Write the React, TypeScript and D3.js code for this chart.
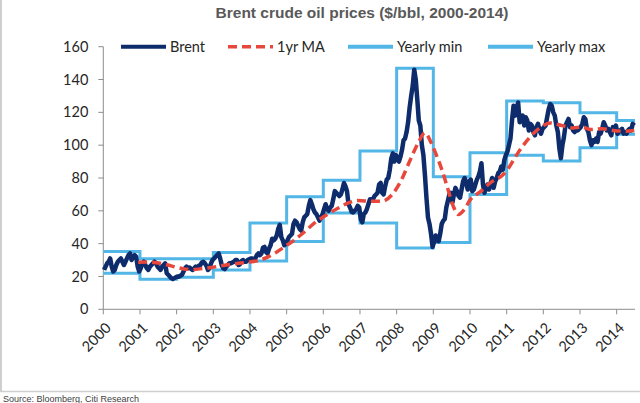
import React from "react";
import * as d3 from "d3";

const W = 640;
const H = 403;

// plot frame
const X0 = 103.3;
const X1 = 635;
const Y0 = 309.3;
const Y1 = 46.7;

const years = [2000, 2001, 2002, 2003, 2004, 2005, 2006, 2007, 2008, 2009, 2010, 2011, 2012, 2013, 2014];
const yTicks = [0, 20, 40, 60, 80, 100, 120, 140, 160];
const xEnd = 2014.5;

// Brent, two readings per month (first half, second half), one row per year
const brent2000 = [24, 26, 28, 29, 31, 26, 23, 24, 27, 29, 30, 31, 29, 27, 29, 31, 33, 34, 30, 32, 33, 32, 26, 23];
const brent2001 = [25, 28, 29, 27, 25, 24, 26, 27, 28, 29, 28, 26, 25, 24, 26, 27, 28, 22, 21, 20, 19, 18.5, 19, 19.5];
const brent2002 = [20, 19.8, 20.5, 21, 23, 25, 26, 25, 25.5, 24.5, 24, 25, 26, 25.5, 26.5, 27, 28.5, 29, 28, 26.5, 24, 25, 28, 30];
const brent2003 = [31, 32, 33, 34, 31, 27, 25, 24.5, 26, 27, 28, 28, 28.5, 29, 30, 30, 27, 27.5, 29.5, 30, 29, 29, 30, 30.5];
const brent2004 = [31, 31, 30.5, 31, 33, 34, 33, 34, 37.5, 38, 35, 34, 37, 39, 43, 42, 43, 45, 49, 51.5, 44, 42, 39, 40];
const brent2005 = [42, 44, 45, 46, 52, 54, 53, 51, 49, 48, 53, 56, 57, 58, 63, 66.5, 64, 61, 59, 58, 56, 54, 56, 58];
const brent2006 = [61, 64, 61, 60, 62, 63, 67, 72, 71, 70, 69, 70, 73, 77, 75, 72, 64, 62, 59.5, 59, 60, 61, 63, 62];
const brent2007 = [55, 53, 58, 59, 61, 64, 67, 67, 67, 69, 70, 71, 76, 77, 71, 70, 75, 79, 80, 85, 92, 95, 90, 94];
const brent2008 = [92, 90, 93, 97, 103, 104, 108, 114, 123, 130, 136, 146, 140, 128, 115, 112, 100, 94, 82, 68, 56, 52, 46, 38];
const brent2009 = [41, 45, 42, 41.5, 46, 52, 54, 55, 62, 66, 70, 71, 65, 70, 74, 72, 69, 68, 73, 78, 80, 77, 73, 78];
const brent2010 = [79, 72, 73, 76, 79, 81, 84, 89, 76, 71, 74, 76, 73, 77, 80, 74, 78, 80, 83, 84, 87, 85, 91, 94];
const brent2011 = [96, 100, 104, 115, 124, 118, 122, 126, 114, 116, 118, 112, 117, 115, 109, 113, 112, 108, 106, 111, 113, 109, 107, 110];
const brent2012 = [111, 112, 117, 122, 125, 124, 120, 118, 112, 108, 98, 92, 100, 105, 112, 114, 116, 111, 112, 109, 108, 110, 109, 110];
const brent2013 = [111, 113, 117, 116, 110, 108, 103, 100, 103, 102, 104, 102, 108, 107, 110, 114, 112, 109, 110, 108, 106, 111, 110, 112];
const brent2014 = [107, 108, 109, 110, 107, 108, 107, 109, 110, 109, 113, 112];

const brentRows = [
  brent2000, brent2001, brent2002, brent2003, brent2004, brent2005, brent2006, brent2007,
  brent2008, brent2009, brent2010, brent2011, brent2012, brent2013, brent2014,
];

// 1yr moving average: [year, value]
const ma1yr: [number, number][] = [
  [2000.95, 28.7], [2001.2, 28.8], [2001.45, 28.4], [2001.73, 27.1], [2002.0, 25.6], [2002.2, 24.6],
  [2002.45, 24.3], [2002.7, 24.8], [2002.95, 25.5], [2003.2, 26.5], [2003.45, 27.3], [2003.7, 28.0],
  [2003.95, 28.8], [2004.2, 29.5], [2004.45, 31.5], [2004.7, 34.5], [2004.96, 38.3], [2005.2, 42.0],
  [2005.45, 46.5], [2005.78, 53.0], [2006.05, 57.0], [2006.41, 61.7], [2006.7, 65.0], [2006.95, 66.3],
  [2007.3, 65.8], [2007.6, 65.8], [2007.86, 69.5], [2008.1, 77.5], [2008.37, 91], [2008.6, 102],
  [2008.77, 107.5], [2008.95, 101], [2009.1, 93], [2009.25, 84], [2009.4, 73], [2009.55, 62.5],
  [2009.68, 57.7], [2009.85, 61], [2010.0, 66.5], [2010.3, 72], [2010.55, 77], [2010.9, 82],
  [2011.05, 86], [2011.3, 95], [2011.6, 104], [2011.9, 110.5], [2012.2, 113.5], [2012.5, 112],
  [2012.8, 110.5], [2013.05, 111], [2013.3, 109.5], [2013.6, 110], [2013.9, 109], [2014.2, 108.5],
  [2014.48, 109],
];

const yearlyMin = [22, 18.3, 19.6, 24, 29.5, 41.3, 58.7, 52.6, 37.3, 40.7, 69.9, 93.9, 90.3, 98.4, 106.6];
const yearlyMax = [35.2, 30.8, 30.8, 34.6, 52.6, 68.5, 78.6, 96.4, 146.9, 80.7, 95.4, 126.9, 125.9, 119.8, 115.1];

const NAVY = "#0E2C6B";
const RED = "#E8473C";
const SKY = "#52B6E6";
const AXIS = "#8C8C8C";
const TEXT = "#262626";

const legendItems = [
  { label: "Brent", x: 121, color: NAVY, width: 4, dash: undefined },
  { label: "1yr MA", x: 228, color: RED, width: 3.5, dash: "9,5" },
  { label: "Yearly min", x: 348, color: SKY, width: 4, dash: undefined },
  { label: "Yearly max", x: 488, color: SKY, width: 4, dash: undefined },
];

export default function App() {
  const x = d3.scaleLinear().domain([2000, xEnd]).range([X0, X1]);
  const y = d3.scaleLinear().domain([0, 160]).range([Y0, Y1]);

  const brentPts: [number, number][] = [];
  brentRows.forEach((row, yi) => {
    row.forEach((v, i) => brentPts.push([years[yi] + (i + 0.5) / 24, v]));
  });

  const stepLine = d3
    .line<[number, number]>()
    .x((d) => x(d[0]))
    .y((d) => y(d[1]))
    .curve(d3.curveStepAfter);

  const stepPts = (vals: number[]): [number, number][] => [
    ...vals.map((v, i) => [years[i], v] as [number, number]),
    [xEnd, vals[vals.length - 1]],
  ];

  const maLine = d3
    .line<[number, number]>()
    .x((d) => x(d[0]))
    .y((d) => y(d[1]))
    .curve(d3.curveMonotoneX);
  const brentPath = d3.line<[number, number]>().x((d) => x(d[0])).y((d) => y(d[1]))(brentPts);

  return (
    <svg
      width={W}
      height={H}
      style={{ position: "absolute", left: 0, top: 0, background: "#fff" }}
      fontFamily="Lato, 'Open Sans', sans-serif"
    >
      {/* frame */}
      <line x1={1} x2={1} y1={0} y2={391.5} stroke="#BFBFBF" strokeWidth={1.5} />
      <line x1={0} x2={W} y1={391.5} y2={391.5} stroke="#D0D0D0" strokeWidth={1.5} />
      <text x={3} y={402} fontSize={9} fill="#404040" fontFamily="'Liberation Sans', Arial, sans-serif">
        Source: Bloomberg, Citi Research
      </text>

      {/* title */}
      <text
        x={362}
        y={18}
        textAnchor="middle"
        fontSize={15.5}
        fontWeight="bold"
        fill="#595959"
        fontFamily="'Liberation Sans', Arial, sans-serif"
      >
        Brent crude oil prices ($/bbl, 2000-2014)
      </text>

      {/* y axis */}
      <line x1={X0} x2={X0} y1={Y1} y2={Y0} stroke={AXIS} />
      {yTicks.map((t) => (
        <g key={t}>
          <line x1={X0 - 5} x2={X0} y1={y(t)} y2={y(t)} stroke={AXIS} />
          <text x={X0 - 15} y={y(t)} dy="0.35em" textAnchor="end" fontSize={14.5} fill={TEXT}>
            {t}
          </text>
        </g>
      ))}

      {/* x axis */}
      <line x1={X0} x2={X1} y1={Y0} y2={Y0} stroke={AXIS} />
      {years.map((yr) => (
        <g key={yr}>
          <line x1={x(yr)} x2={x(yr)} y1={Y0} y2={Y0 + 5} stroke={AXIS} />
          <text
            transform={`translate(${x(yr) + 5},${Y0 + 16}) rotate(-45)`}
            textAnchor="end"
            dy="0.35em"
            fontSize={14.5}
            fill={TEXT}
          >
            {yr}
          </text>
        </g>
      ))}

      {/* series */}
      <path d={stepLine(stepPts(yearlyMin)) ?? ""} fill="none" stroke={SKY} strokeWidth={3} />
      <path d={stepLine(stepPts(yearlyMax)) ?? ""} fill="none" stroke={SKY} strokeWidth={3} />
      <path d={brentPath ?? ""} fill="none" stroke={NAVY} strokeWidth={4.5} strokeLinejoin="round" />
      <path d={maLine(ma1yr) ?? ""} fill="none" stroke={RED} strokeWidth={3.5} strokeDasharray="9,5" />

      {/* legend */}
      {legendItems.map((it) => (
        <g key={it.label}>
          <line
            x1={it.x}
            x2={it.x + 45}
            y1={Y1}
            y2={Y1}
            stroke={it.color}
            strokeWidth={it.width}
            strokeDasharray={it.dash}
          />
          <text x={it.x + 49} y={Y1} dy="0.35em" fontSize={14.5} fill={TEXT}>
            {it.label}
          </text>
        </g>
      ))}
    </svg>
  );
}
